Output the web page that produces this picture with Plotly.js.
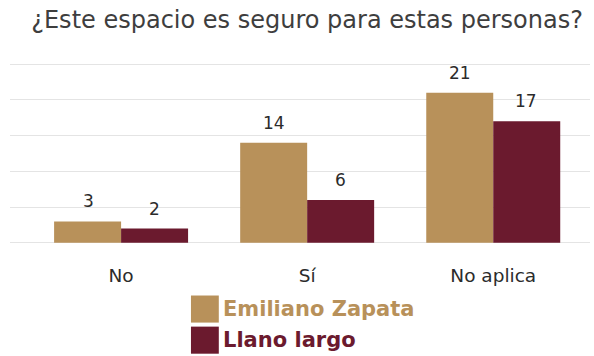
<!DOCTYPE html>
<html>
<head>
<meta charset="utf-8">
<script src="https://cdn.plot.ly/plotly-3.0.1.min.js"></script>
<style>html,body{margin:0;padding:0;background:#fff;}#chart{width:594px;height:356px;}</style>
</head>
<body>
<div id="chart"></div>
<script>
const categories = ["No", "Sí", "No aplica"];
const seriesNames = ["Emiliano Zapata", "Llano largo"];
const emilianoZapata = [3, 14, 21];
const llanoLargo = [2, 6, 17];
const yTicks = [0, 5, 10, 15, 20, 25];

const colors = ["#B8915A", "#6B1A2E"];
const allValues = [emilianoZapata, llanoLargo];
const FONT = "DejaVu Sans, sans-serif";

const traces = allValues.map((vals, i) => ({
  type: "bar",
  name: seriesNames[i],
  x: categories,
  y: vals,
  marker: {color: colors[i]},
  hoverinfo: "x+y+name"
}));

// value labels above the bars, positioned through the axes
const offsets = [-33, 33];
const annotations = [];
allValues.forEach((vals, i) => {
  vals.forEach((v, j) => {
    annotations.push({
      x: categories[j], y: v, xref: "x", yref: "y",
      text: String(v), showarrow: false,
      xanchor: "center", yanchor: "bottom",
      xshift: offsets[i], yshift: 8,
      font: {family: FONT, size: 17, color: "#2b2b2b"}
    });
  });
});

// custom legend (large swatches, coloured text)
const shapes = [];
const legendY = [-0.35, -0.52];
seriesNames.forEach((n, i) => {
  shapes.push({
    type: "rect", xref: "paper", yref: "paper",
    x0: 0.312, x1: 0.360, y0: legendY[i] - 0.074, y1: legendY[i] + 0.074,
    fillcolor: colors[i], line: {width: 0}
  });
  annotations.push({
    xref: "paper", yref: "paper", x: 0.363, y: legendY[i],
    xanchor: "left", yanchor: "middle", showarrow: false,
    text: "<b>" + n + "</b>",
    font: {family: FONT, size: 21, color: colors[i]}
  });
});

const layout = {
  width: 594, height: 356,
  paper_bgcolor: "#ffffff", plot_bgcolor: "#ffffff",
  margin: {l: 10, r: 4, t: 62, b: 111},
  title: {
    text: "¿Este espacio es seguro para estas personas?",
    x: 0.517, xanchor: "center", y: 0.945, yanchor: "middle",
    font: {family: FONT, size: 24, color: "#3e3e3e"}
  },
  barmode: "group",
  bargap: 0.28, bargroupgap: 0,
  showlegend: false,
  xaxis: {
    range: [-0.597, 2.52],
    showgrid: false, zeroline: false, showline: false,
    ticks: "", tickfont: {family: FONT, size: 18.5, color: "#2b2b2b"},
    ticklabelstandoff: 17
  },
  yaxis: {
    range: [-0.3, 25.3], tickvals: yTicks, showticklabels: false,
    showgrid: true, gridcolor: "#e4e4e4", gridwidth: 1,
    zeroline: false, showline: false, fixedrange: true
  },
  annotations: annotations,
  shapes: shapes
};

Plotly.newPlot("chart", traces, layout, {displayModeBar: false, staticPlot: true});
</script>
</body>
</html>
